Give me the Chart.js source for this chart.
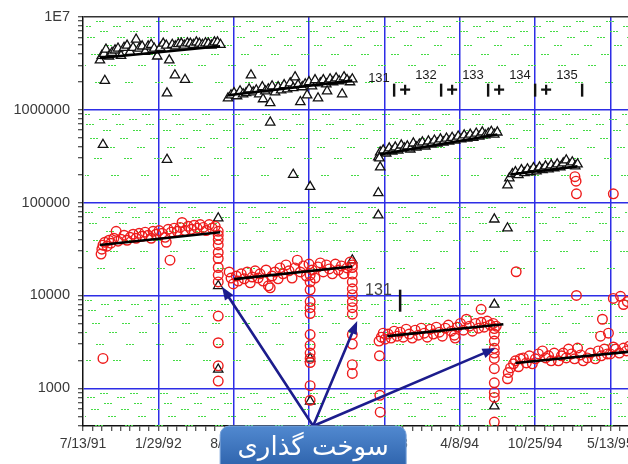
<!DOCTYPE html>
<html>
<head>
<meta charset="utf-8">
<script src="https://cdn.jsdelivr.net/npm/chart.js@4/dist/chart.umd.min.js"></script>
<style>
  html, body { margin: 0; padding: 0; background: #fff; overflow: hidden; }
  #wrap { width: 628px; height: 464px; overflow: hidden; position: relative; background: #fff; }
  canvas { display: block; }
</style>
</head>
<body>
<div id="wrap"><canvas id="c" width="680" height="464"></canvas></div>
<script>
// Axis ranges: x in days since 7/13/91, y logarithmic
const X_MIN = 0, X_MAX = 1500, Y_MIN = 394, Y_MAX = 1e7;
const xLabelDays = [0, 200, 400, 600, 800, 1000, 1200, 1400];
const xLabels = ['7/13/91', '1/29/92', '8/16/92', '3/4/93', '9/20/93', '4/8/94', '10/25/94', '5/13/95'];
const yDecades = [1e3, 1e4, 1e5, 1e6, 1e7];
const yLabels = ['1000', '10000', '100000', '1000000', '1E7'];

// Triangles: cycle bands
const triDays1 = [45,50,56,61,69,77,85,93,101,109,117,125,133,141,149,157,165,173,181,189,197,205,213,221,229,237,245,253,261,269,277,285,293,301,309,317,325,333,341,349,357,365];
const triVals1 = [3.4e6,3.8e6,4.0e6,4.45e6,3.75e6,4.1e6,4.35e6,4.56e6,3.8e6,4.65e6,4.9e6,4.2e6,4.65e6,5.7e6,4.56e6,4.8e6,4.2e6,4.8e6,5.0e6,4.56e6,3.75e6,4.65e6,5.15e6,4.9e6,3.4e6,5.0e6,4.8e6,5.1e6,5.15e6,4.9e6,5.2e6,5.15e6,5.0e6,5.3e6,5.15e6,5.0e6,5.2e6,5.15e6,4.9e6,5.3e6,5.3e6,5.0e6];
const triDays2 = [385,393,401,409,417,425,433,441,446,452,460,468,476,478,484,492,497,502,510,518,526,534,542,550,558,563,571,577,582,590,595,600,608,616,624,630,638,646,648,656,664,672,680,688,693,701,709,715];
const triVals2 = [1.33e6,1.43e6,1.51e6,1.40e6,1.58e6,1.47e6,1.51e6,1.66e6,2.35e6,1.54e6,1.62e6,1.47e6,1.75e6,1.30e6,1.58e6,1.66e6,1.18e6,1.79e6,1.54e6,1.75e6,1.62e6,1.84e6,1.66e6,1.93e6,1.71e6,2.24e6,1.84e6,1.21e6,1.75e6,1.88e6,1.43e6,1.98e6,1.79e6,2.08e6,1.33e6,1.93e6,2.08e6,1.88e6,1.58e6,2.13e6,1.98e6,2.18e6,2.03e6,1.47e6,2.24e6,2.08e6,1.98e6,2.13e6];
const triDays3 = [784,789,797,805,813,821,829,837,845,853,861,869,877,885,893,901,909,917,925,933,941,949,957,965,972,980,988,996,1004,1012,1020,1028,1036,1044,1052,1060,1068,1076,1084,1092,1100];
const triVals3 = [3.08e5,3.48e5,3.65e5,3.39e5,3.84e5,3.56e5,3.93e5,3.65e5,4.13e5,3.84e5,4.03e5,3.74e5,4.34e5,3.93e5,4.23e5,4.45e5,4.03e5,4.56e5,4.23e5,4.67e5,4.34e5,4.8e5,4.45e5,4.9e5,4.56e5,5.0e5,4.67e5,5.15e5,4.8e5,5.3e5,4.9e5,5.4e5,5.0e5,5.55e5,5.15e5,5.7e5,5.3e5,5.55e5,5.8e5,5.4e5,5.7e5];
const triDays4 = [1132,1140,1148,1156,1164,1172,1180,1188,1196,1204,1212,1220,1228,1236,1243,1251,1259,1267,1275,1283,1291,1299,1307,1313];
const triVals4 = [1.83e5,2.03e5,2.13e5,1.98e5,2.24e5,2.08e5,2.29e5,2.13e5,2.35e5,2.18e5,2.4e5,2.24e5,2.46e5,2.29e5,2.53e5,2.35e5,2.59e5,2.4e5,2.65e5,2.86e5,2.53e5,2.72e5,2.46e5,2.59e5];
// Triangles: isolated readings
const triOutDays = [58,53,223,244,271,223,359,359,359,497,558,603,603,603,715,787,789,784,784,1092,1127,1092,1092,1127];
const triOutVals = [2.05e6,4.2e5,1.5e6,2.35e6,2.1e6,2.9e5,6.8e4,1.27e4,1.6e3,7.3e5,2.0e5,1.48e5,2.1e3,727,2.4e4,3.0e5,2.4e5,1.27e5,7.3e4,6.6e4,5.3e4,8.0e3,643,1.54e5];

// Circles: cycle bands
const redDays1 = [48,50,53,58,64,69,74,82,88,93,101,109,117,125,133,141,149,157,165,173,181,186,194,202,210,218,221,226,234,242,250,258,263,271,279,287,295,303,311,319,327,335,343,351,359];
const redVals1 = [2.79e4,3.15e4,3.48e4,3.74e4,3.39e4,3.93e4,3.65e4,4.13e4,4.9e4,3.84e4,4.03e4,4.45e4,3.93e4,4.23e4,4.56e4,4.13e4,4.67e4,4.34e4,4.8e4,4.45e4,4.13e4,4.9e4,4.56e4,5.0e4,4.67e4,4.23e4,3.74e4,5.15e4,4.8e4,5.3e4,4.9e4,5.4e4,6.1e4,5.0e4,5.55e4,5.15e4,5.7e4,5.3e4,5.8e4,5.4e4,5.0e4,5.8e4,5.3e4,5.55e4,4.9e4];
const redDays2 = [388,393,399,407,412,420,428,436,444,449,457,465,470,478,486,492,497,502,510,518,523,531,539,547,555,563,569,577,585,593,600,608,616,624,630,638,646,654,662,670,678,686,693,701,709,715];
const redVals2 = [1.79e4,1.54e4,1.33e4,1.62e4,1.43e4,1.71e4,1.51e4,1.79e4,1.37e4,1.58e4,1.84e4,1.54e4,1.71e4,1.43e4,1.88e4,1.27e4,1.21e4,1.62e4,1.79e4,1.51e4,1.98e4,1.71e4,2.13e4,1.84e4,1.54e4,1.98e4,2.4e4,1.79e4,2.08e4,1.62e4,2.18e4,1.88e4,1.54e4,2.03e4,2.24e4,1.79e4,2.13e4,1.93e4,1.71e4,2.18e4,1.88e4,2.08e4,1.71e4,1.98e4,2.29e4,2.13e4];
const redDays3 = [786,792,797,802,810,818,826,834,842,850,858,866,874,882,890,898,906,914,922,930,938,946,954,962,970,978,986,994,1002,1010,1018,1026,1034,1042,1050,1057,1065,1073,1081,1089,1097];
const redVals3 = [3.23e3,3.56e3,3.93e3,3.39e3,3.84e3,3.48e3,4.13e3,3.65e3,4.03e3,3.56e3,4.34e3,3.84e3,3.48e3,4.23e3,3.74e3,4.45e3,3.93e3,3.56e3,4.34e3,3.84e3,4.56e3,4.03e3,3.65e3,4.45e3,4.8e3,4.13e3,3.74e3,4.56e3,5.0e3,4.23e3,5.55e3,4.67e3,4.13e3,5.0e3,4.45e3,5.15e3,4.56e3,5.3e3,4.8e3,5.0e3,4.67e3];
const redDays4 = [1127,1129,1135,1143,1148,1156,1161,1169,1177,1185,1193,1201,1209,1220,1228,1236,1243,1251,1262,1270,1275,1283,1289,1297,1305,1313,1321,1328,1339,1347,1360,1368,1376,1384,1392,1400,1408,1414,1424,1435,1443,1451];
const redVals4 = [1.27e3,1.48e3,1.66e3,1.84e3,1.98e3,1.71e3,2.08e3,2.13e3,1.88e3,2.24e3,1.84e3,2.08e3,2.35e3,2.53e3,2.13e3,2.24e3,1.98e3,2.4e3,1.98e3,2.24e3,2.4e3,2.13e3,2.65e3,2.35e3,2.08e3,2.72e3,2.29e3,1.98e3,2.13e3,2.4e3,2.08e3,2.53e3,2.24e3,2.65e3,2.35e3,2.35e3,2.79e3,2.65e3,2.4e3,2.72e3,2.53e3,2.86e3];
// Circles: drops at each refuelling outage
const dropDays = [359, 603, 715, 1092];
const dropVals = [
  [4.45e4,4.0e4,3.5e4,2.9e4,2.5e4,2.0e4,1.66e4,1.4e4,6.0e3,3.1e3,1.75e3,1.2e3],
  [1.66e4,1.4e4,1.15e4,8.6e3,7.4e3,6.4e3,3.8e3,2.9e3,2.4e3,2.1e3,1.9e3,1.07e3,745],
  [2.0e4,1.7e4,1.4e4,1.18e4,1.02e4,8.6e3,7.4e3,6.3e3,3.8e3,3.0e3,1.8e3,1.45e3],
  [4.4e3,3.84e3,3.23e3,2.7e3,2.4e3,2.1e3,1.63e3,1.15e3,906,800,434]
];
// Circles: isolated readings
const redOutDays = [231,53,787,788,789,988,1057,1150,1379,1395,1374,1408,1427,1435,1445,1310,1306,1309,1310,1408];
const redOutVals = [2.4e4,2.1e3,2.24e3,842,555,3.48e3,7.1e3,1.8e4,5.55e3,3.93e3,3.65e3,9.3e3,9.8e3,8.0e3,8.6e3,1.0e4,1.9e5,1.7e5,1.24e5,1.24e5];

// Fitted trend segments per cycle
const triTrendDays = [[45,364],[385,715],[789,1100],[1135,1313]];
const triTrendVals = [[3.6e6,4.8e6],[1.43e6,2.05e6],[3.3e5,5.4e5],[2.0e5,2.45e5]];
const redTrendDays = [[45,364],[401,715],[808,1116],[1148,1500]];
const redTrendVals = [[3.5e4,4.8e4],[1.5e4,2.05e4],[3.65e3,4.9e3],[1.88e3,2.6e3]];

// Annotations
const cycleNames = ['131', '132', '133', '134', '135'];
const cycleNoteDay = 757, cycleNoteVal = 2.0e6;
const cycleNote2Day = 749, cycleNote2Val = 1.02e4;
const calloutText = 'سوخت گذاری';
const calloutDay = 611;
const arrowDays = [369, 728, 1095];
const arrowVals = [1.24e4, 5.3e3, 2.7e3];

const FONT = 'Arial, "Liberation Sans", sans-serif';

const xTicks = [];
for (let d = X_MIN; d <= X_MAX; d += 25) xTicks.push(d);
const yTicks = [];
for (let e = 2; e <= 6; e++) for (let m = 1; m <= 9; m++) {
  const v = m * Math.pow(10, e);
  if (v >= 400) yTicks.push(v);
}
yTicks.push(Y_MAX);
const yMinor = yTicks.filter(v => !yDecades.includes(v));

const pts = (days, vals) => days.map((d, i) => ({ x: d, y: vals[i] }));

const triData = [].concat(pts(triDays1, triVals1), pts(triDays2, triVals2), pts(triDays3, triVals3), pts(triDays4, triVals4), pts(triOutDays, triOutVals));
let redData = [].concat(pts(redDays1, redVals1), pts(redDays2, redVals2), pts(redDays3, redVals3), pts(redDays4, redVals4), pts(redOutDays, redOutVals));
dropDays.forEach((d, i) => { redData = redData.concat(dropVals[i].map(v => ({ x: d, y: v }))); });

const datasets = [];
triTrendDays.concat(redTrendDays).forEach((d, i) => {
  const v = i < 4 ? triTrendVals[i] : redTrendVals[i - 4];
  datasets.push({
    type: 'scatter', showLine: true, data: [{ x: d[0], y: v[0] }, { x: d[1], y: v[1] }],
    borderColor: '#000', borderWidth: 2.6, pointRadius: 0, order: 0
  });
});
datasets.push({
  type: 'scatter', data: redData, showLine: false, order: 1,
  pointStyle: 'circle', pointRadius: 4.8,
  borderColor: '#ee1c1c', pointBorderColor: '#ee1c1c', pointBorderWidth: 1.4, borderWidth: 1.4,
  backgroundColor: 'rgba(0,0,0,0)', pointBackgroundColor: 'rgba(0,0,0,0)'
});
datasets.push({
  type: 'scatter', data: triData, showLine: false, order: 2,
  pointStyle: 'triangle', pointRadius: 5.4,
  borderColor: '#111', pointBorderColor: '#111', pointBorderWidth: 1.3, borderWidth: 1.3,
  backgroundColor: '#fff', pointBackgroundColor: '#fff'
});

// Dotted green minor rows
const greenRows = {
  id: 'greenRows',
  beforeDatasetsDraw(chart) {
    const { ctx, chartArea: a, scales: { y } } = chart;
    ctx.save();
    ctx.beginPath();
    ctx.rect(a.left + 2, a.top, a.right - a.left - 2, a.bottom - a.top);
    ctx.clip();
    ctx.strokeStyle = '#45dc45';
    ctx.lineWidth = 1.2;
    yMinor.forEach((v, i) => {
      const py = Math.round(y.getPixelForValue(v)) + 0.5;
      ctx.setLineDash([2, 1, 2, 1, 2, 22]);
      ctx.lineDashOffset = -((i * 13) % 30) - 12;
      ctx.beginPath();
      ctx.moveTo(a.left, py);
      ctx.lineTo(a.right, py);
      ctx.stroke();
    });
    ctx.restore();
  }
};

// Cycle labels with separators
const cycleNote = {
  id: 'cycleNote',
  afterDatasetsDraw(chart) {
    const { ctx, scales: { x, y } } = chart;
    ctx.save();
    const x0 = x.getPixelForValue(cycleNoteDay), by = y.getPixelForValue(cycleNoteVal);
    ctx.fillStyle = '#1a1a1a';
    ctx.strokeStyle = '#111';
    ctx.textAlign = 'left';
    ctx.textBaseline = 'alphabetic';
    cycleNames.forEach((n, i) => {
      const ux = x0 + i * 47;
      ctx.font = '13px ' + FONT;
      ctx.fillText(n, ux, by - (i === 0 ? 0 : 3));
      ctx.lineWidth = 2.4;
      ctx.beginPath();
      ctx.moveTo(ux + 26, by + 2);
      ctx.lineTo(ux + 26, by + 15);
      ctx.stroke();
      if (i < cycleNames.length - 1) {
        const cx = ux + 37, cy = by + 8;
        ctx.lineWidth = 2.2;
        ctx.beginPath();
        ctx.moveTo(cx - 5, cy); ctx.lineTo(cx + 5, cy);
        ctx.moveTo(cx, cy - 5); ctx.lineTo(cx, cy + 5);
        ctx.stroke();
      }
    });
    const x2 = x.getPixelForValue(cycleNote2Day), y2 = y.getPixelForValue(cycleNote2Val);
    ctx.font = '16px ' + FONT;
    ctx.fillStyle = '#444';
    ctx.fillText(cycleNames[0], x2, y2);
    ctx.lineWidth = 2.5;
    ctx.beginPath();
    ctx.moveTo(x2 + 35, y2 - 5);
    ctx.lineTo(x2 + 35, y2 + 17);
    ctx.stroke();
    ctx.restore();
  }
};

// Arrows to the refuelling drops and the callout box
const refuelNote = {
  id: 'refuelNote',
  afterDraw(chart) {
    const { ctx, scales: { x, y } } = chart;
    const ax = x.getPixelForValue(calloutDay), ay = y.getPixelForValue(Y_MIN);
    ctx.save();
    ctx.strokeStyle = '#1c1c8c';
    ctx.fillStyle = '#1c1c8c';
    ctx.lineWidth = 2.6;
    ctx.lineCap = 'round';
    arrowDays.forEach((d, i) => {
      const tx = x.getPixelForValue(d), ty = y.getPixelForValue(arrowVals[i]);
      const ang = Math.atan2(ty - ay, tx - ax);
      const head = 13, half = 5;
      const bx = tx - Math.cos(ang) * head, by = ty - Math.sin(ang) * head;
      ctx.beginPath();
      ctx.moveTo(ax, ay);
      ctx.lineTo(bx, by);
      ctx.stroke();
      ctx.beginPath();
      ctx.moveTo(tx, ty);
      ctx.lineTo(bx + Math.sin(ang) * half, by - Math.cos(ang) * half);
      ctx.lineTo(bx - Math.sin(ang) * half, by + Math.cos(ang) * half);
      ctx.closePath();
      ctx.fill();
    });
    const w = 186, left = ax - w / 2, top = ay, h = 60, r = 9;
    const g = ctx.createLinearGradient(0, top, 0, top + 40);
    g.addColorStop(0, '#5189d0');
    g.addColorStop(1, '#2f64ad');
    ctx.beginPath();
    ctx.moveTo(left + r, top);
    ctx.lineTo(left + w - r, top);
    ctx.arcTo(left + w, top, left + w, top + r, r);
    ctx.lineTo(left + w, top + h);
    ctx.lineTo(left, top + h);
    ctx.lineTo(left, top + r);
    ctx.arcTo(left, top, left + r, top, r);
    ctx.closePath();
    ctx.fillStyle = g;
    ctx.fill();
    ctx.strokeStyle = '#7aa3da';
    ctx.lineWidth = 1;
    ctx.stroke();
    ctx.fillStyle = '#fff';
    ctx.font = '26px "DejaVu Sans", sans-serif';
    ctx.textAlign = 'center';
    ctx.textBaseline = 'alphabetic';
    ctx.fillText(calloutText, ax, top + 29);
    ctx.restore();
  }
};

new Chart(document.getElementById('c'), {
  type: 'scatter',
  data: { datasets },
  options: {
    responsive: false,
    animation: false,
    layout: { padding: { top: 13, right: 32, left: 0, bottom: 0 } },
    plugins: { legend: { display: false }, tooltip: { enabled: false } },
    scales: {
      x: {
        type: 'linear', min: X_MIN, max: X_MAX,
        afterBuildTicks: s => { s.ticks = xTicks.map(v => ({ value: v })); },
        afterFit: s => { s.height = 38; },
        ticks: {
          autoSkip: false, maxRotation: 0, minRotation: 0,
          font: { family: FONT, size: 14 }, color: '#3a3a3a', padding: 5,
          callback: v => { const i = xLabelDays.indexOf(v); return i < 0 ? '' : xLabels[i]; }
        },
        grid: {
          color: c => (c.tick && c.tick.value > 0 && c.tick.value % 200 === 0) ? '#2d2de6' : 'rgba(0,0,0,0)',
          lineWidth: 1.5, tickColor: '#222', tickLength: 5, tickWidth: 1
        },
        border: { color: '#111', width: 1.5 }
      },
      y: {
        type: 'logarithmic', min: Y_MIN, max: Y_MAX,
        afterBuildTicks: s => { s.ticks = yTicks.map(v => ({ value: v })); },
        afterFit: s => { s.width = 83; },
        ticks: {
          autoSkip: false,
          font: { family: FONT, size: 14.5 }, color: '#3a3a3a', padding: 8,
          callback: v => { const i = yDecades.indexOf(v); return i < 0 ? '' : yLabels[i]; }
        },
        grid: {
          color: c => {
            const v = c.tick && c.tick.value;
            if (v === Y_MAX) return '#333';
            return yDecades.includes(v) ? '#2d2de6' : 'rgba(0,0,0,0)';
          },
          lineWidth: 1.5, tickColor: '#222', tickLength: 5, tickWidth: 1
        },
        border: { color: '#111', width: 1.5 }
      }
    }
  },
  plugins: [greenRows, cycleNote, refuelNote]
});
</script>
</body>
</html>
